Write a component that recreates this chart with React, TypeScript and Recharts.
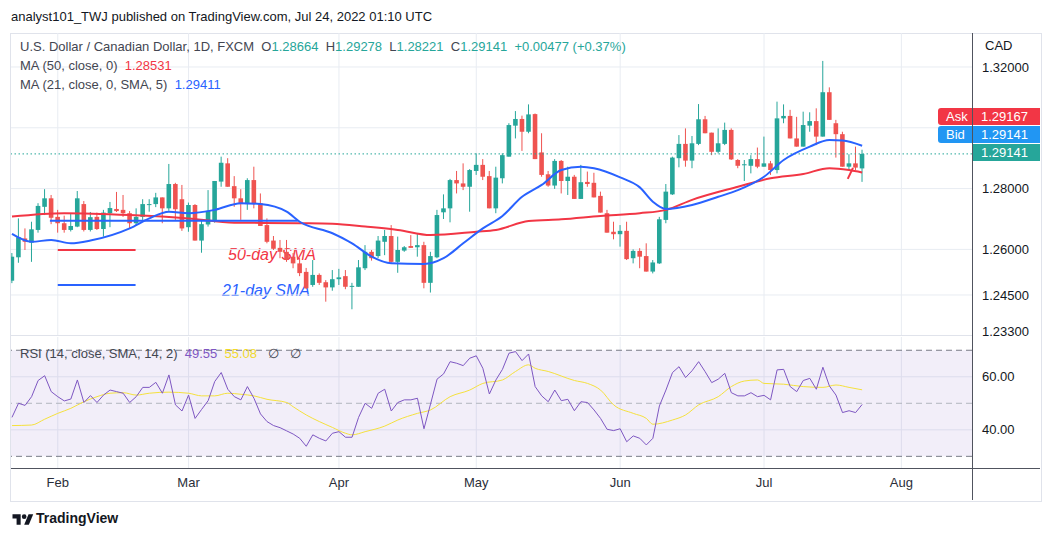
import {
  Bar,
  CartesianGrid,
  ComposedChart,
  Line,
  ReferenceArea,
  ReferenceLine,
  XAxis,
  YAxis,
} from "recharts";

// daily candles, index 0 = Jan 21 2022 ... index 130 = Jul 22 2022 (weekdays)
const opens = [
  1.2497, 1.2574, 1.2636, 1.2622, 1.2664, 1.274, 1.2768, 1.2707, 1.2686, 1.2664,
  1.2675, 1.2749, 1.2664, 1.2707, 1.2667, 1.2719, 1.2733, 1.273, 1.2719, 1.2686,
  1.2707, 1.2747, 1.2749, 1.2771, 1.2735, 1.2815, 1.2765, 1.2673, 1.2746, 1.2629,
  1.2682, 1.2691, 1.2823, 1.2883, 1.2808, 1.2768, 1.2749, 1.2828, 1.2752, 1.268,
  1.2629, 1.2605, 1.2592, 1.2576, 1.2554, 1.2526, 1.2483, 1.2516, 1.2492, 1.2475,
  1.2502, 1.2512, 1.2477, 1.2477, 1.2538, 1.2592, 1.2578, 1.2625, 1.2644, 1.2559,
  1.2596, 1.2611, 1.2607, 1.2614, 1.249, 1.2574, 1.2722, 1.2735, 1.2828, 1.2817,
  1.2806, 1.2858, 1.2878, 1.2841, 1.2735, 1.2834, 1.2905, 1.3007, 1.3029, 1.2987,
  1.3045, 1.2919, 1.2847, 1.281, 1.2891, 1.2825, 1.2839, 1.2766, 1.2822, 1.2819,
  1.2776, 1.2719, 1.2658, 1.265, 1.2661, 1.2571, 1.2595, 1.2578, 1.2527, 1.2554,
  1.2697, 1.2781, 1.29, 1.2947, 1.2892, 1.2947, 1.3028, 1.2984, 1.2921, 1.2947,
  1.2993, 1.2894, 1.2877, 1.2875, 1.2897, 1.2872, 1.2883, 1.2861, 1.3031, 1.3039,
  1.2965, 1.2938, 1.3007, 1.3022, 1.2971, 1.3117, 1.3015, 1.2979, 1.2872, 1.2883,
  1.28664,
];
const highs = [
  1.2588, 1.2702, 1.2669, 1.2691, 1.2752, 1.2798, 1.2779, 1.273, 1.2711, 1.2719,
  1.2792, 1.2759, 1.2723, 1.2721, 1.273, 1.2756, 1.2789, 1.2779, 1.2726, 1.2735,
  1.2765, 1.2765, 1.2786, 1.2771, 1.2881, 1.2819, 1.2812, 1.2754, 1.2749, 1.2694,
  1.2795, 1.2825, 1.2905, 1.29, 1.2841, 1.2798, 1.2834, 1.2872, 1.2784, 1.2702,
  1.2644, 1.2631, 1.2631, 1.2588, 1.2572, 1.2539, 1.2565, 1.2521, 1.2499, 1.2532,
  1.2536, 1.2532, 1.249, 1.2565, 1.2614, 1.2598, 1.2644, 1.2664, 1.268, 1.2642,
  1.2611, 1.2647, 1.2653, 1.2625, 1.2592, 1.273, 1.2781, 1.2832, 1.2858, 1.2883,
  1.2864, 1.2916, 1.2897, 1.2858, 1.2872, 1.2916, 1.3015, 1.3055, 1.304, 1.3077,
  1.3047, 1.2982, 1.2858, 1.2897, 1.2894, 1.2872, 1.2845, 1.2878, 1.2856, 1.2852,
  1.279, 1.273, 1.2691, 1.268, 1.2691, 1.26, 1.2604, 1.262, 1.2565, 1.2707,
  1.2815, 1.2905, 1.2976, 1.2998, 1.2973, 1.3078, 1.3039, 1.2984, 1.2998, 1.3017,
  1.2998, 1.2897, 1.2894, 1.291, 1.2935, 1.2971, 1.2891, 1.3086, 1.3077, 1.3059,
  1.3036, 1.3053, 1.3051, 1.3064, 1.322, 1.3133, 1.3026, 1.2987, 1.2913, 1.2938,
  1.29278,
];
const lows = [
  1.2489, 1.2556, 1.2598, 1.2559, 1.2655, 1.2713, 1.2683, 1.2655, 1.2655, 1.2659,
  1.2673, 1.2659, 1.2659, 1.2664, 1.2642, 1.2673, 1.2723, 1.2707, 1.2669, 1.2677,
  1.2697, 1.2724, 1.2739, 1.2686, 1.2727, 1.2697, 1.2661, 1.2658, 1.2629, 1.2589,
  1.2675, 1.2688, 1.2806, 1.2806, 1.274, 1.2697, 1.273, 1.2735, 1.2677, 1.262,
  1.2598, 1.2571, 1.2559, 1.2538, 1.2512, 1.247, 1.2477, 1.2483, 1.2428, 1.2464,
  1.2483, 1.2469, 1.2403, 1.2477, 1.2532, 1.2563, 1.2571, 1.2581, 1.2556, 1.2523,
  1.2592, 1.2605, 1.2576, 1.2472, 1.2458, 1.2571, 1.27, 1.2689, 1.2784, 1.2795,
  1.2724, 1.2845, 1.2828, 1.2735, 1.2719, 1.2817, 1.2905, 1.2965, 1.2924, 1.2982,
  1.2897, 1.2839, 1.2806, 1.2799, 1.2784, 1.2779, 1.2766, 1.2766, 1.2806, 1.2771,
  1.2721, 1.2655, 1.2633, 1.2609, 1.2565, 1.2554, 1.2538, 1.2527, 1.2521, 1.2552,
  1.2686, 1.2779, 1.287, 1.2872, 1.2867, 1.2943, 1.2982, 1.291, 1.2916, 1.2943,
  1.2894, 1.2867, 1.2825, 1.285, 1.2867, 1.2872, 1.2845, 1.285, 1.3015, 1.2965,
  1.2938, 1.2938, 1.2987, 1.2943, 1.2971, 1.3026, 1.2902, 1.2872, 1.2861, 1.2861,
  1.28221,
];
const closes = [
  1.2576, 1.264, 1.2625, 1.2666, 1.2743, 1.2768, 1.2704, 1.2686, 1.2664, 1.2677,
  1.2768, 1.2664, 1.2706, 1.2667, 1.2721, 1.2736, 1.2726, 1.2719, 1.2686, 1.2707,
  1.2749, 1.2749, 1.2771, 1.2735, 1.2815, 1.2732, 1.2669, 1.2746, 1.2629, 1.2683,
  1.2727, 1.2825, 1.2885, 1.2806, 1.2768, 1.2749, 1.2828, 1.2749, 1.2677, 1.2625,
  1.2602, 1.2592, 1.2565, 1.2554, 1.2522, 1.2472, 1.2516, 1.249, 1.2475, 1.2502,
  1.2508, 1.2477, 1.248, 1.2541, 1.2592, 1.2571, 1.2629, 1.2644, 1.2559, 1.2598,
  1.2607, 1.2605, 1.2614, 1.249, 1.2578, 1.2713, 1.2735, 1.2828, 1.2817, 1.2806,
  1.2861, 1.2878, 1.2839, 1.2735, 1.2836, 1.291, 1.3009, 1.3029, 1.2987, 1.3044,
  1.2897, 1.2845, 1.281, 1.2891, 1.2825, 1.2839, 1.2766, 1.2821, 1.2815, 1.2771,
  1.2721, 1.2655, 1.265, 1.2661, 1.2568, 1.2595, 1.2576, 1.2527, 1.2557, 1.2699,
  1.279, 1.2902, 1.2947, 1.2892, 1.2949, 1.3028, 1.2982, 1.2921, 1.2949, 1.2993,
  1.2896, 1.2875, 1.288, 1.2897, 1.2872, 1.2883, 1.2861, 1.3031, 1.3039, 1.2965,
  1.2938, 1.3009, 1.3022, 1.2971, 1.3117, 1.3026, 1.2979, 1.2872, 1.2883, 1.2869,
  1.29141,
];

// moving averages: [candle index, value]
const ma50Points: [number, number][] = [
  [0, 1.2708], [8, 1.2719], [18, 1.2713], [27, 1.2702], [34, 1.2688], [44, 1.2686],
  [49, 1.2684], [54, 1.2675], [59, 1.2664], [64, 1.2647], [71, 1.2658], [74, 1.2664],
  [79, 1.2693], [84, 1.2699], [90, 1.271], [96, 1.2719], [100, 1.273], [104, 1.2763],
  [111, 1.2806], [116, 1.2834], [121, 1.2848], [125, 1.2867], [128, 1.2861], [130, 1.28531],
];
const ma21Points: [number, number][] = [
  [0, 1.2651], [3, 1.2625], [6, 1.2631], [9, 1.262], [12, 1.2629], [18, 1.2669],
  [21, 1.2702], [24, 1.2724], [27, 1.2719], [31, 1.273], [35, 1.2752], [38, 1.2749],
  [42, 1.2724], [44, 1.2691], [49, 1.2653], [52, 1.262], [55, 1.2576], [58, 1.2554],
  [63, 1.2552], [66, 1.2571], [69, 1.262], [72, 1.2669], [75, 1.271], [78, 1.2773],
  [81, 1.2812], [84, 1.2861], [87, 1.2872], [89, 1.2867], [93, 1.2837], [96, 1.2804],
  [98, 1.2757], [100, 1.2733], [104, 1.2746], [108, 1.2773], [111, 1.2795], [115, 1.2839],
  [118, 1.2894], [122, 1.2938], [125, 1.296], [127, 1.2958], [130, 1.29411],
];

const rsiValues = [
  44.7, 50.0, 49.2, 52.5, 58.6, 60.4, 54.4, 52.5, 50.9, 51.6,
  58.8, 50.3, 52.9, 50.3, 53.1, 55.0, 54.4, 53.8, 50.3, 52.5,
  56.0, 56.0, 57.9, 53.8, 60.7, 49.4, 47.1, 53.1, 44.3, 47.7,
  51.0, 58.2, 61.6, 55.3, 52.5, 51.3, 56.3, 51.9, 46.0, 43.1,
  41.6, 40.8, 39.6, 38.4, 36.8, 33.8, 38.1, 36.8, 35.8, 38.7,
  39.3, 37.2, 37.2, 44.7, 50.0, 48.1, 53.8, 55.3, 47.1, 50.3,
  51.3, 51.3, 51.9, 40.4, 49.7, 59.1, 61.1, 65.7, 65.1, 64.2,
  67.0, 67.9, 63.2, 53.5, 58.8, 62.8, 68.9, 69.5, 66.1, 68.6,
  56.3, 52.8, 50.6, 55.0, 51.0, 51.5, 47.2, 50.6, 50.3, 47.5,
  44.3, 40.2, 39.7, 40.4, 35.5, 37.7, 36.8, 34.3, 36.8, 49.0,
  55.0, 61.6, 63.8, 59.7, 62.3, 65.7, 61.9, 57.8, 59.1, 61.3,
  54.0, 52.8, 52.8, 54.0, 52.5, 53.0, 51.3, 62.6, 62.8, 56.3,
  54.4, 58.6, 59.4, 55.3, 63.6, 56.5, 53.1, 46.5, 47.2, 46.5,
  49.55,
];
const rsiMaPoints: [number, number][] = [
  [0, 41.6], [3, 41.8], [5, 44.0], [7, 46.2], [9, 48.1], [11, 50.6], [13, 52.5],
  [15, 53.8], [17, 54.0], [19, 53.1], [21, 53.8], [24, 54.2], [27, 53.8], [29, 52.8],
  [31, 52.8], [33, 53.8], [35, 53.4], [37, 52.8], [39, 51.5], [42, 50.3], [43, 48.7],
  [45, 45.6], [47, 43.1], [49, 40.9], [51, 38.7], [52, 38.1], [54, 39.3], [57, 41.4],
  [59, 43.7], [62, 46.2], [64, 47.5], [67, 52.5], [70, 55.0], [72, 57.5], [75, 58.8],
  [77, 62.0], [79, 64.5], [80, 63.2], [82, 62.0], [86, 58.6], [88, 57.5], [90, 55.0],
  [92, 49.4], [95, 46.2], [97, 44.3], [98, 42.1], [101, 43.7], [103, 45.6], [105, 49.4],
  [108, 52.5], [110, 56.3], [112, 58.4], [114, 58.8], [115, 57.5], [118, 57.2],
  [121, 56.3], [124, 56.0], [126, 56.9], [128, 56.0], [130, 55.08],
];

const monthTicks = [7, 27, 50, 71, 93, 115, 136];
const monthLabels = ["Feb", "Mar", "Apr", "May", "Jun", "Jul", "Aug"];
// 1.30000 sits under the Ask/Bid tags, so only the grid line is drawn for it
const priceTicks = [1.32, 1.28, 1.26, 1.245, 1.233];
const priceGrid = [1.32, 1.3, 1.28, 1.26, 1.245];
const rsiTicks = [60, 40];

// hand-drawn lines on the chart: [x1, y1, x2, y2, colour]
const drawnLines: [number, number, number, number, string][] = [
  [7, 1.2598, 18.9, 1.2598, "#f23645"],
  [7, 1.2483, 18.9, 1.2483, "#2962ff"],
  [5.8, 1.2694, 43.7, 1.2694, "#2962ff"],
  [127.8, 1.2832, 128.6, 1.2868, "#f23645"],
];

const FONT = "'Liberation Sans', Arial, sans-serif";
const GREEN = "#26a69a";
const RED = "#ef5350";
const GRID = "#e8ecf2";

const ma50Map = new Map(ma50Points);
const ma21Map = new Map(ma21Points);
const rsiMaMap = new Map(rsiMaPoints);

const rows = closes.map((c, i) => ({
  i,
  o: opens[i],
  h: highs[i],
  l: lows[i],
  c,
  range: [lows[i], highs[i]],
  ma50: ma50Map.get(i) ?? null,
  ma21: ma21Map.get(i) ?? null,
  rsi: rsiValues[i],
  rsiMa: rsiMaMap.get(i) ?? null,
}));

function Candle(props: any) {
  const { x, y, width, height, payload } = props;
  if (x == null || y == null || !payload) return null;
  const { o, h, l, c } = payload;
  const top = height < 0 ? y + height : y;
  const span = Math.abs(height);
  const k = h - l > 0 ? span / (h - l) : 0;
  const cx = x + width / 2;
  const yOf = (v: number) => top + (h - v) * k;
  const color = c >= o ? GREEN : RED;
  const bTop = yOf(Math.max(o, c));
  const bBot = yOf(Math.min(o, c));
  const bw = 4.6;
  return (
    <g>
      <line x1={cx} x2={cx} y1={top} y2={top + span} stroke={color} strokeWidth={1} />
      <rect x={cx - bw / 2} y={bTop} width={bw} height={Math.max(1, bBot - bTop)} fill={color} />
    </g>
  );
}

const xDomain = [-0.15, 146.8];

function Tag({ top, left, width, bg, text }: { top: number; left: number; width: number; bg: string; text: string }) {
  return (
    <div
      style={{
        position: "absolute",
        top,
        left,
        width,
        height: 17,
        background: bg,
        color: "#fff",
        fontSize: 13,
        lineHeight: "17px",
        paddingLeft: 8,
        boxSizing: "border-box",
        borderRadius: left < 972 ? "3px 0 0 3px" : 0,
      }}
    >
      {text}
    </div>
  );
}

export default function App() {
  return (
    <div
      style={{
        position: "absolute",
        left: 0,
        top: 0,
        width: 1047,
        height: 537,
        background: "#fff",
        fontFamily: FONT,
        color: "#131722",
        overflow: "hidden",
      }}
    >
      <div style={{ position: "absolute", left: 11, top: 9, fontSize: 13, color: "#131722" }}>
        analyst101_TWJ published on TradingView.com, Jul 24, 2022 01:10 UTC
      </div>

      {/* frame */}
      <div style={{ position: "absolute", left: 10, top: 33, width: 1030, height: 467, border: "1px solid #e0e3eb" }} />

      {/* annotations under the candles */}
      <div style={{ position: "absolute", left: 228, top: 246, fontSize: 16, fontStyle: "italic", color: "#f23645" }}>
        50-day SMA
      </div>
      <div style={{ position: "absolute", left: 222, top: 282, fontSize: 16, fontStyle: "italic", color: "#2962ff" }}>
        21-day SMA
      </div>

      <div style={{ position: "absolute", left: 11, top: 33 }}>
        <ComposedChart width={1029} height={312} data={rows} margin={{ top: 0, right: 0, bottom: 9, left: 0 }}>
          <CartesianGrid stroke={GRID} horizontalValues={priceGrid} verticalValues={monthTicks} />
          <XAxis dataKey="i" type="number" domain={xDomain} hide allowDataOverflow />
          <YAxis
            orientation="right"
            domain={[1.23151, 1.33118]}
            ticks={priceTicks}
            interval={0}
            width={68}
            axisLine={false}
            tickLine={false}
            tickMargin={4}
            tick={{ fontSize: 13, fill: "#131722", fontFamily: FONT }}
            tickFormatter={(v: number) => v.toFixed(5)}
            allowDataOverflow
          />
          <ReferenceLine y={closes[closes.length - 1]} stroke={GREEN} strokeDasharray="1.5 2.5" />
          <Bar dataKey="range" shape={<Candle />} isAnimationActive={false} />
          <Line type="monotone" dataKey="ma50" stroke="#f23645" strokeWidth={2} dot={false} connectNulls isAnimationActive={false} />
          <Line type="monotone" dataKey="ma21" stroke="#2962ff" strokeWidth={2} dot={false} connectNulls isAnimationActive={false} />
          {drawnLines.map(([x1, y1, x2, y2, col], k) => (
            <ReferenceLine
              key={k}
              segment={[{ x: x1, y: y1 }, { x: x2, y: y2 }]}
              stroke={col}
              strokeWidth={2}
            />
          ))}
        </ComposedChart>
      </div>

      <div style={{ position: "absolute", left: 11, top: 337 }}>
        <ComposedChart width={1029} height={163} data={rows} margin={{ top: 0, right: 0, bottom: 0, left: 0 }}>
          <CartesianGrid stroke={GRID} horizontalValues={rsiTicks} verticalValues={monthTicks} />
          <XAxis
            dataKey="i"
            type="number"
            domain={xDomain}
            ticks={monthTicks}
            interval={0}
            height={32}
            axisLine={false}
            tickLine={false}
            tickMargin={4}
            tick={{ fontSize: 13, fill: "#2a2e39", fontFamily: FONT }}
            tickFormatter={(v: number) => monthLabels[monthTicks.indexOf(v)] ?? ""}
            allowDataOverflow
          />
          <YAxis
            orientation="right"
            domain={[25.6, 75]}
            ticks={rsiTicks}
            interval={0}
            width={68}
            axisLine={false}
            tickLine={false}
            tickMargin={4}
            tick={{ fontSize: 13, fill: "#131722", fontFamily: FONT }}
            tickFormatter={(v: number) => v.toFixed(2)}
            allowDataOverflow
          />
          <ReferenceArea y1={30} y2={70} fill="#7e57c2" fillOpacity={0.1} stroke="none" />
          <ReferenceLine y={70} stroke="#787b86" strokeDasharray="6 4" />
          <ReferenceLine y={50} stroke="#b2b5be" strokeDasharray="6 4" />
          <ReferenceLine y={30} stroke="#787b86" strokeDasharray="6 4" />
          <Line type="monotone" dataKey="rsiMa" stroke="#f5e13d" strokeWidth={1} dot={false} connectNulls isAnimationActive={false} />
          <Line type="linear" dataKey="rsi" stroke="#7e57c2" strokeWidth={1} dot={false} isAnimationActive={false} />
        </ComposedChart>
      </div>

      {/* pane separators and scale lines */}
      <div style={{ position: "absolute", left: 11, top: 335, width: 961, height: 1, background: "#e0e3eb" }} />
      <div style={{ position: "absolute", left: 972, top: 33, width: 1, height: 467, background: "#50535e" }} />
      <div style={{ position: "absolute", left: 11, top: 468, width: 1029, height: 1, background: "#50535e" }} />

      {/* legends */}
      <div style={{ position: "absolute", left: 20, top: 39, fontSize: 13, color: "#434651", whiteSpace: "pre" }}>
        U.S. Dollar / Canadian Dollar, 1D, FXCM{"  "}O<span style={{ color: GREEN }}>1.28664</span>
        {"  "}H<span style={{ color: GREEN }}>1.29278</span>
        {"  "}L<span style={{ color: GREEN }}>1.28221</span>
        {"  "}C<span style={{ color: GREEN }}>1.29141</span>
        {"  "}
        <span style={{ color: GREEN }}>+0.00477 (+0.37%)</span>
      </div>
      <div style={{ position: "absolute", left: 20, top: 58, fontSize: 13, color: "#434651", whiteSpace: "pre" }}>
        MA (50, close, 0){"  "}<span style={{ color: "#f23645" }}>1.28531</span>
      </div>
      <div style={{ position: "absolute", left: 20, top: 77, fontSize: 13, color: "#434651", whiteSpace: "pre" }}>
        MA (21, close, 0, SMA, 5){"  "}<span style={{ color: "#2962ff" }}>1.29411</span>
      </div>
      <div style={{ position: "absolute", left: 20, top: 346, fontSize: 13, color: "#434651", whiteSpace: "pre" }}>
        RSI (14, close, SMA, 14, 2){"  "}<span style={{ color: "#7e57c2" }}>49.55</span>
        {"  "}
        <span style={{ color: "#f0d92e" }}>55.08</span>
        {"   "}∅{"   "}∅
      </div>

      <div style={{ position: "absolute", left: 985, top: 38, fontSize: 13, color: "#131722" }}>CAD</div>

      <Tag top={108} left={938} width={34} bg="#f23645" text="Ask" />
      <Tag top={126} left={938} width={34} bg="#2196f3" text="Bid" />
      <Tag top={108} left={973} width={67} bg="#f23645" text="1.29167" />
      <Tag top={126} left={973} width={67} bg="#2196f3" text="1.29141" />
      <Tag top={144} left={973} width={67} bg={GREEN} text="1.29141" />

      {/* footer */}
      <svg style={{ position: "absolute", left: 12, top: 512 }} width={22} height={14} viewBox="0 0 36 24">
        <path d="M14 22H7V11H0V4h14v18z" fill="#131722" />
        <circle cx={20} cy={8} r={4} fill="#131722" />
        <path d="M28 22h-8l7.5-18h8z" fill="#131722" />
      </svg>
      <div style={{ position: "absolute", left: 36, top: 510, fontSize: 14, fontWeight: 700, color: "#131722" }}>
        TradingView
      </div>
    </div>
  );
}
